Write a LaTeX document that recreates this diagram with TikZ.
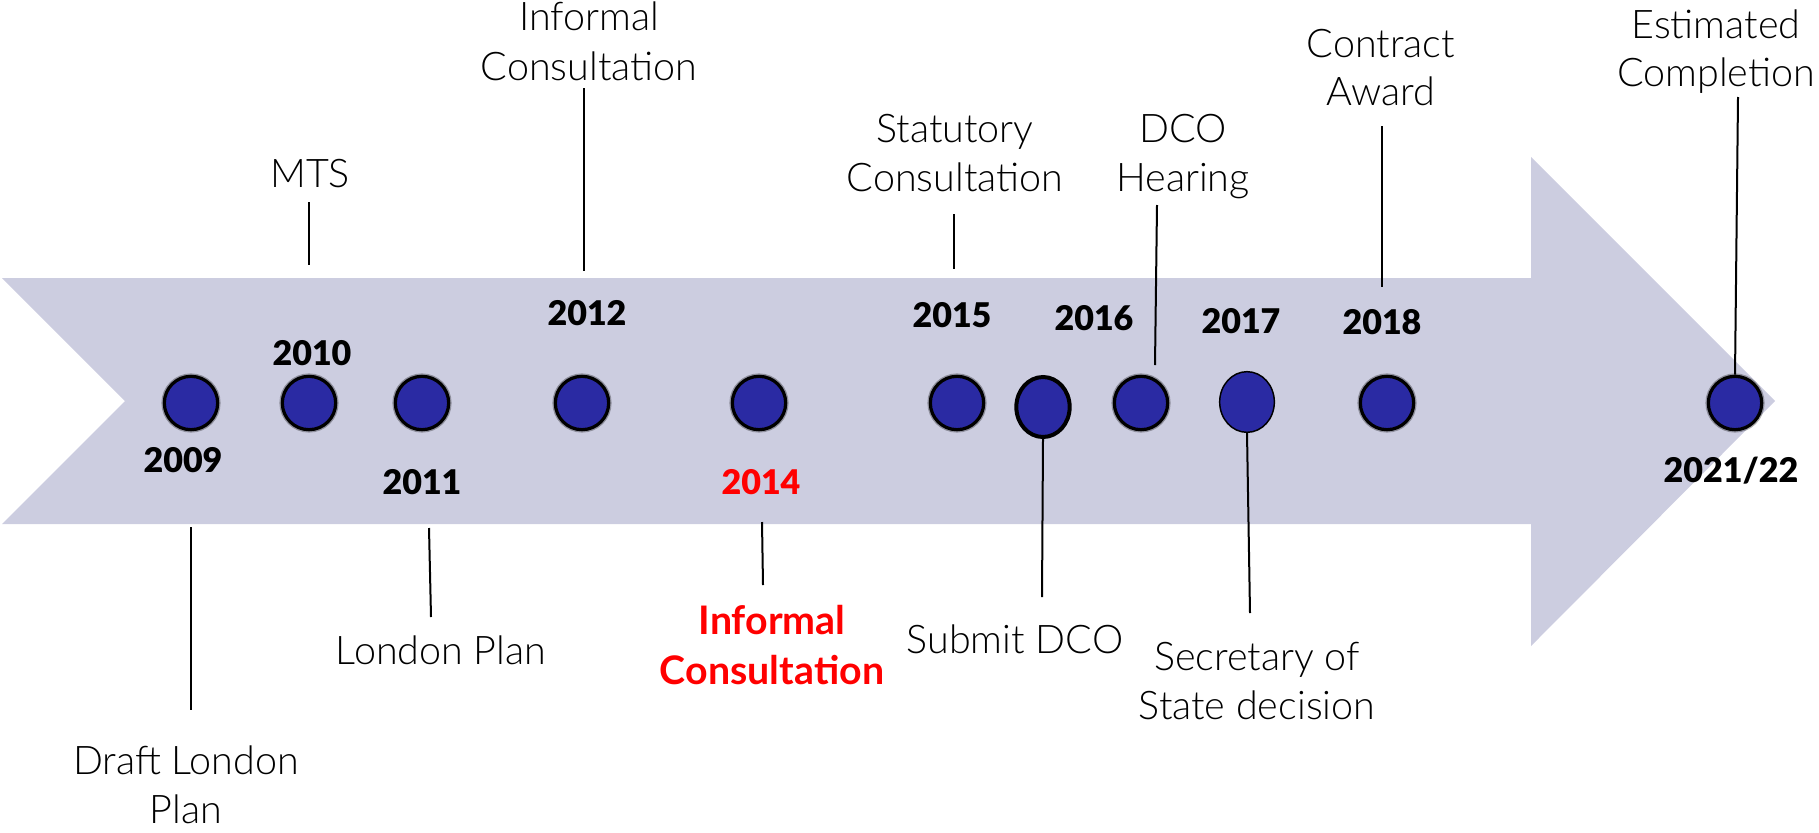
\documentclass[tikz,border=0pt]{standalone}
\usepackage{fontspec}
\usetikzlibrary{shapes.geometric}
\IfFontExistsTF{Lato Light}{\newfontfamily\labelfont{Lato Light}}{\newfontfamily\labelfont{Lato}}
\IfFontExistsTF{Lato Black}{\newfontfamily\yearfont{Lato Black}}{\newfontfamily\yearfont{Lato}[UprightFont=*-Bold]}
\newfontfamily\alertfont{Lato}
\definecolor{band}{RGB}{204,205,224}
\definecolor{dotblue}{RGB}{42,42,163}
\definecolor{alert}{RGB}{255,0,0}
\begin{document}
\begin{tikzpicture}[x=0.75pt,y=-0.75pt,
  lbl/.style={font=\labelfont\fontsize{29.6}{36}\selectfont, inner sep=0pt, anchor=base},
  yr/.style={font=\yearfont\fontsize{25.5}{28}\selectfont, inner sep=0pt, anchor=base},
  dot/.style={circle, draw=black, line width=2.4pt, fill=dotblue, minimum size=40pt, inner sep=0pt,
    preaction={draw=black, draw opacity=0.3, line width=4.4pt}},
  bigdot/.style={ellipse, draw=black, fill=dotblue, inner sep=0pt},
  tick/.style={line width=1.5pt, line cap=butt}]
\useasboundingbox (0,0) rectangle (1819,832);

% the timeline band with its notched tail and arrow head
\fill[band] (2,278) -- (1531,278) -- (1531,157) -- (1775,401) -- (1531,646)
  -- (1531,524) -- (2,524) -- (125,401) -- cycle;

% milestone markers
\node[dot] (c2009) at (191,403) {};
\node[dot] (c2010) at (309,403) {};
\node[dot] (c2011) at (422,403) {};
\node[dot] (c2012) at (582,403) {};
\node[dot] (c2014) at (759,403) {};
\node[dot] (c2015) at (957,403) {};
\node[bigdot, line width=3pt, minimum width=40pt, minimum height=45pt] (cSubmit) at (1043,407) {};
\node[dot] (c2016) at (1141,403) {};
\node[bigdot, line width=1.1pt, minimum width=41pt, minimum height=45.5pt] (c2017) at (1247,402) {};
\node[dot] (c2018) at (1387,403) {};
\node[dot] (c2021) at (1735,403) {};

% years
\node[yr] (y2009) at (183,472) {2009};
\node[yr] (y2010) at (312,365) {2010};
\node[yr] (y2011) at (422,494) {2011};
\node[yr] (y2012) at (587,325) {2012};
\node[yr, text=alert] (y2014) at (761,494) {2014};
\node[yr] (y2015) at (952,327) {2015};
\node[yr] (y2016) at (1094,330) {2016};
\node[yr] (y2017) at (1241,333) {2017};
\node[yr] (y2018) at (1382,334) {2018};
\node[yr] (y2021) at (1731,482) {2021/22};

% event labels above the band
\node[lbl] (tMTS) at (310,187) {MTS};
\node[lbl] (tInformal) at (589,30) {\begin{tabular}[t]{@{}c@{}}Informal\\[2pt]Consultation\end{tabular}};
\node[lbl] (tStatutory) at (955,142) {\begin{tabular}[t]{@{}c@{}}Statutory\\[1pt]Consultation\end{tabular}};
\node[lbl] (tHearing) at (1183,142) {\begin{tabular}[t]{@{}c@{}}DCO\\[1pt]Hearing\end{tabular}};
\node[lbl] (tContract) at (1381,57) {\begin{tabular}[t]{@{}c@{}}Contract\\Award\end{tabular}};
\node[lbl] (tEstimated) at (1716,38) {\begin{tabular}[t]{@{}c@{}}Estimated\\Completion\end{tabular}};

% event labels below the band
\node[lbl] (bDraft) at (186,774) {\begin{tabular}[t]{@{}c@{}}Draft London\\[1pt]Plan\end{tabular}};
\node[lbl] (bLondon) at (441,664) {London Plan};
\node[lbl, text=alert, font=\alertfont\bfseries\fontsize{29.5}{37.5}\selectfont] (bInformal) at (772,634) {\begin{tabular}[t]{@{}c@{}}Informal\\Consultation\end{tabular}};
\node[lbl] (bSubmit) at (1015,653) {Submit DCO};
\node[lbl] (bSecretary) at (1257,670) {\begin{tabular}[t]{@{}c@{}}Secretary of\\[1pt]State decision\end{tabular}};

% leader line end points
\coordinate (mtsA) at (309,202);       \coordinate (mtsB) at (309,265);
\coordinate (infA) at (584,88);        \coordinate (infB) at (584,271);
\coordinate (statA) at (954,214);      \coordinate (statB) at (954,269);
\coordinate (hearA) at (1157,205);     \coordinate (hearB) at (1155,365);
\coordinate (contA) at (1382,126);     \coordinate (contB) at (1382,287);
\coordinate (estA) at (1738,97);
\coordinate (draftA) at (191,527);     \coordinate (draftB) at (191,710);
\coordinate (lonA) at (429,528);       \coordinate (lonB) at (431,617);
\coordinate (inf2A) at (762,522);      \coordinate (inf2B) at (763,585);
\coordinate (subB) at (1042,597);
\coordinate (secB) at (1250,613);

% leader lines
\draw[tick] (mtsA) -- (mtsB);
\draw[tick] (infA) -- (infB);
\draw[tick] (statA) -- (statB);
\draw[tick] (hearA) -- (hearB);
\draw[tick] (contA) -- (contB);
\draw[tick] (estA) -- (c2021.north);
\draw[tick] (draftA) -- (draftB);
\draw[tick] (lonA) -- (lonB);
\draw[tick] (inf2A) -- (inf2B);
\draw[tick] (cSubmit.south) -- (subB);
\draw[tick] (c2017.south) -- (secB);
\end{tikzpicture}
\end{document}
